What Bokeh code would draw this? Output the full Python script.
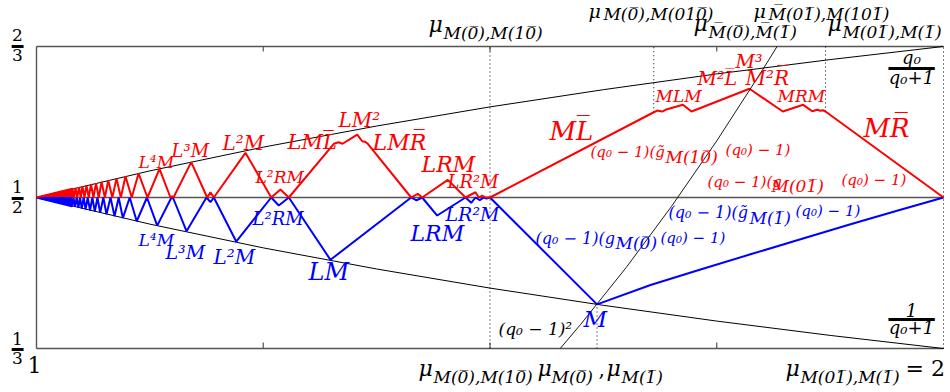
from bokeh.plotting import figure
from bokeh.models import Label, Range1d
from bokeh.embed import file_html
from bokeh.resources import INLINE

# ---------------- data (q on x, value on y) ----------------
x_ticks = [1.25, 1.5, 1.75]
q_min, q_max = 1.0, 2.0
y_min, y_max = 1/3, 2/3

env_q = [1.0, 1.125, 1.25, 1.375, 1.5, 1.625, 1.75, 1.875, 2.0]
upper_y = [0.5, 0.5294, 0.5556, 0.5789, 0.6, 0.6190, 0.6364, 0.6522, 0.6667]
lower_y = [0.5, 0.4706, 0.4444, 0.4211, 0.4, 0.3810, 0.3636, 0.3478, 0.3333]

half_q = [1.0, 2.0]
half_y = [0.5, 0.5]

par_q = [1.5774, 1.6, 1.65, 1.7, 1.75, 1.8, 1.8165]
par_y = [0.3333, 0.36, 0.4225, 0.49, 0.5625, 0.64, 0.6667]

dot_q = [1.5, 1.618, 1.6806, 1.8699, 2.0]
dot_y0 = [1/3, 1/3, 0.5941, 0.5949, 1/3]
dot_y1 = [2/3, 0.382, 2/3, 2/3, 2/3]

red_wedge_q = [1.0, 1.0397, 1.0397]
red_wedge_y = [0.5, 0.5097, 0.5]
blue_wedge_q = [1.0, 1.0392, 1.0392]
blue_wedge_y = [0.5, 0.4904, 0.5]

red_q = [1.0, 1.0397, 1.0413, 1.0430, 1.0449, 1.0469, 1.0488, 1.0507, 1.0529, 1.0551,
         1.0576, 1.0601, 1.0628, 1.0656, 1.0686, 1.0717, 1.0754, 1.0791, 1.0836, 1.0882,
         1.0930, 1.0981, 1.1050, 1.1125, 1.1224, 1.1356, 1.1477, 1.1494, 1.1510, 1.1706,
         1.1882, 1.1918, 1.1955, 1.2304, 1.2588, 1.2690, 1.2782, 1.3278, 1.3330, 1.3375,
         1.3536, 1.3591, 1.3620, 1.3653, 1.4131, 1.4204, 1.4252, 1.4535, 1.4730, 1.4840,
         1.4877, 1.4914, 1.4950, 1.5, 1.6806, 1.6843, 1.6899, 1.6935, 1.7126, 1.7222,
         1.7861, 1.8228, 1.8453, 1.8553, 1.8608, 1.8644, 1.8669, 1.8699, 2.0]
red_y = [0.5, 0.5097, 0.5, 0.5105, 0.5, 0.5115, 0.5, 0.5124, 0.5, 0.5134,
         0.5, 0.5146, 0.5, 0.5159, 0.5, 0.5173, 0.5, 0.5190, 0.5, 0.5211,
         0.5, 0.5234, 0.5, 0.5266, 0.5, 0.5317, 0.5, 0.5015, 0.5, 0.5390,
         0.5, 0.5058, 0.5, 0.5493, 0.5, 0.5088, 0.5, 0.5593, 0.5610, 0.5593,
         0.5695, 0.5621, 0.5616, 0.5593, 0.5, 0.5041, 0.5, 0.5195, 0.5, 0.5058,
         0.5, 0.5022, 0.5, 0.5, 0.5941, 0.5960, 0.5949, 0.5968, 0.6023, 0.5949,
         0.6200, 0.5949, 0.6023, 0.5952, 0.5968, 0.5957, 0.5963, 0.5949, 0.5]

blue_q = [1.0, 1.0392, 1.0408, 1.0424, 1.0443, 1.0462, 1.0480, 1.0499, 1.0520, 1.0541,
          1.0565, 1.0590, 1.0616, 1.0643, 1.0672, 1.0702, 1.0737, 1.0772, 1.0816, 1.0860,
          1.0906, 1.0952, 1.1028, 1.1105, 1.1218, 1.1331, 1.1488, 1.1496, 1.1504, 1.1654,
          1.1874, 1.1918, 1.1955, 1.2202, 1.2588, 1.2671, 1.2782, 1.3241, 1.4131, 1.4190,
          1.4252, 1.4418, 1.4730, 1.4793, 1.4840, 1.4888, 1.4932, 1.4961, 1.5, 1.618,
          1.6770, 1.7321, 1.7872, 1.8424, 1.8975, 1.9526, 2.0]
blue_y = [0.5, 0.4904, 0.5, 0.4896, 0.5, 0.4887, 0.5, 0.4878, 0.5, 0.4868,
          0.5, 0.4856, 0.5, 0.4844, 0.5, 0.4830, 0.5, 0.4814, 0.5, 0.4794,
          0.5, 0.4773, 0.5, 0.4738, 0.5, 0.4690, 0.5, 0.4985, 0.5, 0.4628,
          0.5, 0.4948, 0.5, 0.4514, 0.5, 0.4912, 0.5, 0.4312, 0.5, 0.4967,
          0.5, 0.4801, 0.5, 0.4941, 0.5, 0.4972, 0.5, 0.4989, 0.5, 0.382,
          0.4034, 0.4205, 0.4373, 0.4539, 0.4704, 0.4864, 0.5]

RED = "#ff0000"
BLUE = "#0000ff"
BLACK = "#000000"
AX = "#555555"
SERIF = "DejaVu Serif"

# (text, q, y, colour, size px)
curve_labels = [
    ("L⁴M", 1.1125, 0.5320, RED, 17), ("L³M", 1.1488, 0.5441, RED, 18),
    ("L²M", 1.2051, 0.5519, RED, 20), ("L²RM", 1.2415, 0.5155, RED, 17),
    ("LML̅", 1.2767, 0.5519, RED, 21), ("LM²", 1.3330, 0.5773, RED, 20),
    ("LMR̅", 1.3705, 0.5519, RED, 22), ("LRM", 1.4245, 0.5276, RED, 22),
    ("LR²M", 1.4531, 0.5099, RED, 18), ("ML̅", 1.5656, 0.5629, RED, 26),
    ("M³", 1.7707, 0.6424, RED, 19), ("M²L̅", 1.7288, 0.6236, RED, 19),
    ("M²R̅", 1.7817, 0.6236, RED, 20), ("MLM", 1.6825, 0.6049, RED, 17),
    ("MRM", 1.8170, 0.6049, RED, 17), ("MR̅", 1.9118, 0.5662, RED, 26),
    ("(q₀ − 1)(g̃", 1.6108, 0.5442, RED, 15), ("M(10̅)", 1.6935, 0.5375, RED, 17),
    ("(q₀) − 1)", 1.7597, 0.5464, RED, 15),
    ("(q₀ − 1)(g", 1.7398, 0.5110, RED, 15), ("M(01̅)", 1.8104, 0.5055, RED, 17),
    ("(q₀) − 1)", 1.8875, 0.5132, RED, 15),
    ("L⁴M", 1.1125, 0.4459, BLUE, 17), ("L³M", 1.1422, 0.4316, BLUE, 19),
    ("L²M", 1.1951, 0.4260, BLUE, 20), ("L²RM", 1.2381, 0.4691, BLUE, 18),
    ("LM", 1.2999, 0.4073, BLUE, 24), ("LRM", 1.4123, 0.4514, BLUE, 22),
    ("LR²M", 1.4509, 0.4735, BLUE, 19),
    ("(q₀ − 1)(g", 1.5502, 0.4481, BLUE, 16), ("M(0̅)", 1.6384, 0.4426, BLUE, 17),
    ("(q₀) − 1)", 1.6880, 0.4492, BLUE, 15),
    ("(q₀ − 1)(g̃", 1.6968, 0.4768, BLUE, 16), ("M(1̅)", 1.7861, 0.4702, BLUE, 17),
    ("(q₀) − 1)", 1.8368, 0.4790, BLUE, 15),
    ("M", 1.6031, 0.3565, BLUE, 23),
    ("(q₀ − 1)²", 1.5094, 0.3477, BLACK, 17),
]

# mu labels: (mu q, mu y, mu size, subscript text, sub q, sub y)
mu_labels = [
    (1.4322, 0.6821, 22, "M(0̅),M(10̅)", 1.4487, 0.6744),
    (1.6086, 0.6976, 19, "M(0̅),M(010̅)", 1.6251, 0.6953),
    (1.7244, 0.6832, 22, "M̅(0̅),M̅(1̅)", 1.7409, 0.6755),
    (1.7905, 0.6976, 19, "M̅(01̅),M(101̅)", 1.8071, 0.6953),
    (1.8721, 0.6832, 22, "M(01̅),M(1̅)", 1.8886, 0.6755),
    (1.4212, 0.3024, 22, "M(0̅),M(10̅)", 1.4377, 0.2947),
    (1.5524, 0.3024, 22, "M(0̅)", 1.5678, 0.2947),
    (1.6285, 0.3024, 22, "M(1̅)", 1.6450, 0.2947),
    (1.8258, 0.3024, 22, "M(01̅),M(1̅)", 1.8423, 0.2947),
]

# stacked fractions: (numerator, denominator, centre q, num y, bar y, den y, italic, bar chars)
fractions = [
    ("2", "3", 0.979, 0.6722, 0.6672, 0.6501, False, 1),
    ("1", "2", 0.979, 0.5044, 0.5000, 0.4823, False, 1),
    ("1", "3", 0.979, 0.3366, 0.3328, 0.3157, False, 1),
    ("q₀", "q₀+1", 1.9647, 0.6468, 0.6429, 0.6247, True, 4),
    ("1", "q₀+1", 1.9647, 0.3687, 0.3659, 0.3488, True, 4),
]

# ---------------- figure ----------------
W, H = 950, 392
PX_Q = 907.0      # pixels per unit of q
PX_Y = 906.0      # pixels per unit of y
pad_l, pad_r, pad_t, pad_b = 36, 7, 46, 44

p = figure(width=W, height=H,
           x_range=Range1d(q_min - pad_l / PX_Q, q_max + pad_r / PX_Q),
           y_range=Range1d(y_min - pad_b / PX_Y, y_max + pad_t / PX_Y),
           output_backend="svg", toolbar_location=None,
           x_axis_location=None, y_axis_location=None,
           min_border=0, min_border_left=0, min_border_right=0,
           min_border_top=0, min_border_bottom=0)
p.outline_line_color = None
p.xgrid.visible = False
p.ygrid.visible = False
p.background_fill_color = "white"
p.border_fill_color = "white"

# frame (left, bottom, top) and inward ticks
p.segment([q_min, q_min, q_min], [y_min, y_min, y_max], [q_min, q_max, q_max], [y_max, y_min, y_max],
          color=AX, line_width=1.4)
p.segment(x_ticks, [y_min] * 3, x_ticks, [y_min + 6 / PX_Y] * 3, color=AX, line_width=1.2)
p.segment(x_ticks, [y_max] * 3, x_ticks, [y_max - 5 / PX_Y] * 3, color=AX, line_width=1.2)

p.line(half_q, half_y, color=AX, line_width=1.5)
p.line(env_q, upper_y, color=BLACK, line_width=1)
p.line(env_q, lower_y, color=BLACK, line_width=1)
p.segment(dot_q, dot_y0, dot_q, dot_y1, color=BLACK, line_width=1, line_dash="1 3")
p.patch(red_wedge_q, red_wedge_y, color=RED, line_width=1)
p.patch(blue_wedge_q, blue_wedge_y, color=BLUE, line_width=1)
p.line(blue_q, blue_y, color=BLUE, line_width=2)
p.line(red_q, red_y, color=RED, line_width=2)
p.line(par_q, par_y, color=BLACK, line_width=0.9)

BASE_SHIFT = 0.38   # em: the rendered alphabetic baseline sits this far below the anchor


def lab(text, x, y, color, size, style="italic", align="left", font=SERIF, baseline="alphabetic"):
    if baseline == "alphabetic":
        y = y + BASE_SHIFT * size / PX_Y
    p.add_layout(Label(x=x, y=y, text=text, text_color=color, text_font_size=f"{size}px",
                       text_font=font, text_font_style=style, text_align=align,
                       text_baseline=baseline))


for t, x, y, c, s in curve_labels:
    lab(t, x, y, c, s)

for mq, my, ms, sub, sq, sy in mu_labels:
    lab("μ", mq, my, BLACK, ms)
    lab(sub, sq, sy, BLACK, 17)
lab(",", 1.6196, 0.3024, BLACK, 20, style="normal")
lab("= 2", 1.9581, 0.3024, BLACK, 22, style="normal")
lab("1", 0.9978, 0.3057, BLACK, 22, style="normal", align="center")

for num, den, cq, ny, by, dy, it, nb in fractions:
    st = "italic" if it else "normal"
    sz = 18 if it else 17
    lab(num, cq, ny, BLACK, sz, style=st, align="center")
    lab(den, cq, dy, BLACK, sz, style=st, align="center")
    lab("━" * nb, cq, by, BLACK, 19, style="normal", align="center",
        font="DejaVu Sans Mono", baseline="middle")

open("out.html", "w").write(file_html(p, INLINE))
